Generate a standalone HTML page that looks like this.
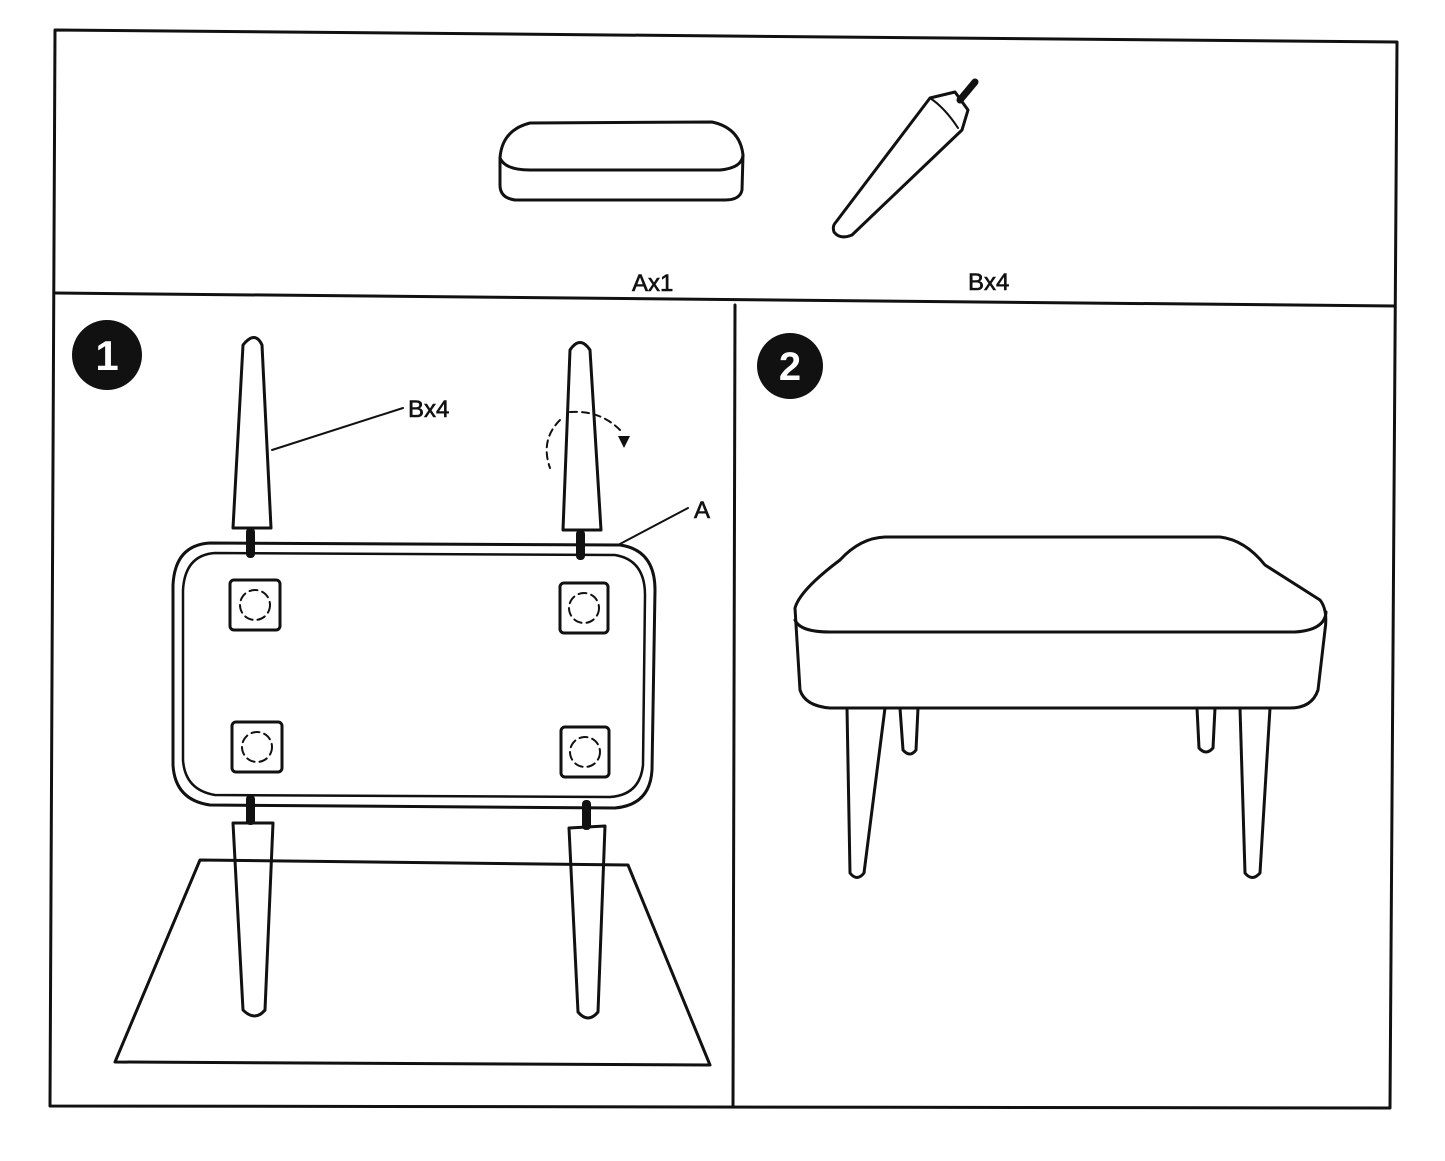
<!DOCTYPE html>
<html><head><style>body{margin:0;background:#fff}svg{display:block}</style></head><body>
<svg width="1445" height="1161" viewBox="0 0 1445 1161" xmlns="http://www.w3.org/2000/svg" font-family="Liberation Sans, sans-serif">
<g fill="none" stroke="#111" stroke-width="3" stroke-linejoin="round" stroke-linecap="round">
<!-- frame -->
<path d="M55 30 L1397 42 L1390 1108 L50 1106 Z"/>
<path d="M55 293 L1395 306"/>
<path d="M735 305 L733 1106"/>
<!-- cushion A -->
<path d="M500 158 Q502 130 530 123 L712 122 Q740 128 743 155 L742 190 Q740 200 725 200 L515 200 Q500 198 500 185 Z"/>
<path d="M500 158 Q505 170 530 170 L720 170 Q742 168 743 155"/>
<!-- leg B top -->
<path d="M836 222 L930 98 L955 92 L968 110 L962 130 L852 235 Q840 240 834 232 Q832 226 836 222 Z"/>
<path d="M930 98 Q945 108 958 128" stroke-width="2"/>
<path d="M960 100 L975 82" stroke-width="7"/>
<!-- step 1 legs -->
<path d="M233 528 L243 345 Q255 330 262 345 L271 528 Z"/>
<path d="M563 530 L570 350 Q580 335 590 350 L601 530 Z"/>
<path d="M233 823 L273 823 L265 1010 Q255 1022 243 1010 Z"/>
<path d="M569 828 L605 826 L598 1012 Q588 1024 578 1012 Z"/>
<!-- base outer/inner -->
<path d="M210 543 L620 545 Q655 550 655 590 L652 770 Q650 805 615 808 L210 805 Q175 800 173 765 L173 585 Q175 545 210 543 Z"/>
<path d="M215 553 L615 555 Q645 560 645 595 L643 765 Q640 795 610 797 L215 795 Q185 790 183 760 L183 590 Q185 555 215 553 Z" stroke-width="2.5"/>
<!-- plates -->
<rect x="230" y="580" width="50" height="50" rx="4"/>
<rect x="560" y="583" width="48" height="50" rx="4"/>
<rect x="232" y="722" width="50" height="50" rx="4"/>
<rect x="561" y="727" width="48" height="50" rx="4"/>
<g stroke-width="2" stroke-dasharray="8 5">
<circle cx="255" cy="605" r="15"/><circle cx="584" cy="608" r="15"/>
<circle cx="257" cy="747" r="15"/><circle cx="585" cy="752" r="15"/>
</g>
<!-- floor -->
<path d="M200 860 L628 865 L710 1065 L115 1062 Z"/>
<!-- leaders -->
<path d="M272 450 L403 408" stroke-width="2"/>
<path d="M618 545 L688 508" stroke-width="2"/>
<path d="M560 420 Q540 440 550 468 M570 412 Q600 410 620 430" stroke-width="2" stroke-dasharray="7 5"/>
<!-- step 2 ottoman -->
<path d="M795 608 Q800 590 840 560 Q860 538 885 537 L1220 537 Q1245 540 1265 565 L1320 600 Q1328 610 1325 630 L1318 690 Q1312 708 1290 708 L830 708 Q805 706 800 690 Z"/>
<path d="M795 620 Q800 632 830 632 L1295 632 Q1325 630 1326 612"/>
<path d="M847 708 L850 873 Q857 882 864 873 L885 708"/>
<path d="M1240 708 L1245 873 Q1252 882 1260 873 L1270 708"/>
<path d="M900 708 L903 750 Q910 758 916 750 L918 708"/>
<path d="M1197 708 L1199 748 Q1206 756 1213 748 L1215 708"/>
</g>
<g fill="#111">
<rect x="246" y="528" width="9" height="30" rx="4"/>
<rect x="576" y="530" width="9" height="30" rx="4"/>
<rect x="246" y="795" width="9" height="30" rx="4"/>
<rect x="582" y="800" width="9" height="30" rx="4"/>
<path d="M618 436 L630 436 L624 448 Z"/>
<circle cx="107" cy="355" r="35"/>
<circle cx="790" cy="366" r="33"/>
</g>
<g fill="#111" font-size="24" stroke="#111" stroke-width="0.6">
<text x="632" y="291">Ax1</text>
<text x="968" y="290">Bx4</text>
<text x="408" y="417">Bx4</text>
<text x="694" y="518">A</text>
</g>
<text x="107" y="370" fill="#fff" font-size="42" font-weight="bold" text-anchor="middle">1</text>
<text x="790" y="380" fill="#fff" font-size="40" font-weight="bold" text-anchor="middle">2</text>
</svg>
</body></html>
